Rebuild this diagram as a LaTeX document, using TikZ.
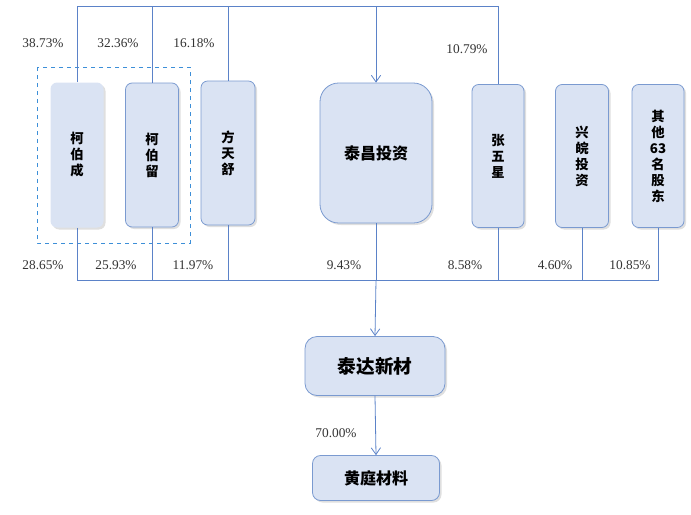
\documentclass[tikz,border=0pt]{standalone}
\usepackage{fontspec}
\setmainfont{Liberation Serif}
\newfontfamily\cjk{Noto Sans CJK SC}
\usetikzlibrary{arrows.meta,shadows}
\definecolor{fillc}{HTML}{DAE3F3}
\definecolor{bordc}{HTML}{7A9AD0}
\definecolor{linec}{HTML}{5B82C8}
\definecolor{dashc}{HTML}{3D8FD8}
\tikzset{
 box/.style={fill=fillc, draw=bordc, line width=0.6pt, rounded corners=5pt, drop shadow={shadow xshift=1.5pt,shadow yshift=-1.5pt,opacity=0.25}, font=\cjk\bfseries, align=center, inner sep=0pt},
 pct/.style={font=\fontsize{10}{12}\selectfont, text=black!80},
 conn/.style={draw=linec, line width=0.6pt},
 arr/.style={conn, -{Straight Barb[length=5pt,width=7pt]}},
}
\begin{document}
\begin{tikzpicture}[x=0.75pt,y=-0.75pt]
\useasboundingbox (0,0) rectangle (691,514);
\draw[dashc, dashed, line width=0.6pt] (37,67) rectangle (190,243);
\node[box, draw=none, minimum width=53*0.75pt, minimum height=145*0.75pt] (a) at (77,155) {柯\\伯\\成};
\node[box, minimum width=53*0.75pt, minimum height=144*0.75pt] (b) at (152,155) {柯\\伯\\留};
\node[box, minimum width=54*0.75pt, minimum height=144*0.75pt] (c) at (228,153) {方\\天\\舒};
\node[box, rounded corners=14pt, minimum width=112*0.75pt, minimum height=140*0.75pt, font=\cjk\bfseries\fontsize{12}{14}\selectfont] (d) at (376,153) {泰昌投资};
\node[box, minimum width=52*0.75pt, minimum height=143*0.75pt] (e) at (498,156) {张\\五\\星};
\node[box, minimum width=53*0.75pt, minimum height=143*0.75pt] (f) at (582,156) {兴\\皖\\投\\资};
\node[box, minimum width=52*0.75pt, minimum height=143*0.75pt] (g) at (658,156) {其\\他\\63\\名\\股\\东};
\node[box, rounded corners=9pt, minimum width=140*0.75pt, minimum height=59*0.75pt, font=\cjk\bfseries\fontsize{14}{16}\selectfont] (t) at (375,366) {泰达新材};
\node[box, rounded corners=6pt, minimum width=127*0.75pt, minimum height=45*0.75pt, font=\cjk\bfseries\fontsize{12}{14}\selectfont] (h) at (376,478) {黄庭材料};
\coordinate (top) at (376,6);
\coordinate (bot) at (376,280);
\draw[conn] (a.north) -- (a.north |- top) -- (e.north |- top) -- (e.north);
\draw[conn] (b.north) -- (b.north |- top);
\draw[conn] (c.north) -- (c.north |- top);
\draw[arr] (top) -- (d.north);
\draw[conn] (a.south) -- (a.south |- bot) -- (g.south |- bot) -- (g.south);
\foreach \n in {b,c,e,f} \draw[conn] (\n.south) -- (\n.south |- bot);
\draw[conn] (d.south) -- (bot);
\draw[arr] (bot) -- (t.north);
\draw[arr] (t.south) -- (h.north);
\node[pct] at (43,43) {38.73\%};
\node[pct] at (118,43) {32.36\%};
\node[pct] at (194,43) {16.18\%};
\node[pct] at (467,49) {10.79\%};
\node[pct] at (43,265) {28.65\%};
\node[pct] at (116,265) {25.93\%};
\node[pct] at (193,265) {11.97\%};
\node[pct] at (344,265) {9.43\%};
\node[pct] at (465,265) {8.58\%};
\node[pct] at (555,265) {4.60\%};
\node[pct] at (630,265) {10.85\%};
\node[pct] at (336,433) {70.00\%};
\end{tikzpicture}
\end{document}
